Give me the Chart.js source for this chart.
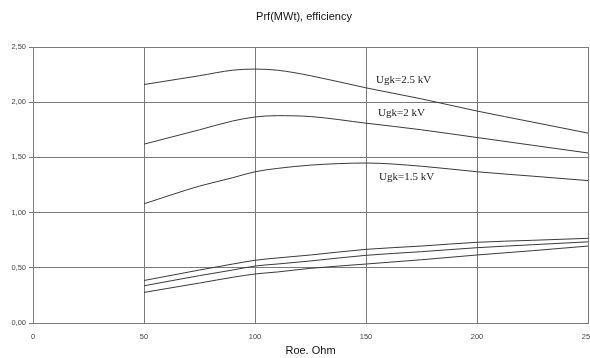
<!DOCTYPE html>
<html>
<head>
<meta charset="utf-8">
<script src="https://cdn.jsdelivr.net/npm/chart.js@4/dist/chart.umd.min.js"></script>
<style>
  html, body { margin: 0; padding: 0; background: #fff; overflow: hidden; width: 590px; height: 358px; }
  #wrap { width: 600px; height: 358px; }
</style>
</head>
<body>
<div id="wrap"><canvas id="c" width="600" height="358"></canvas></div>
<script>
// Roe, Ohm
const roe = [50, 75, 90, 100, 110, 125, 150, 175, 200, 225, 250];
// Prf (MWt) curves
const prf25 = [2.16, 2.24, 2.29, 2.30, 2.29, 2.24, 2.13, 2.03, 1.92, 1.82, 1.72];
const prf20 = [1.62, 1.75, 1.83, 1.866, 1.878, 1.87, 1.81, 1.75, 1.68, 1.61, 1.54];
const prf15 = [1.08, 1.24, 1.316, 1.37, 1.40, 1.43, 1.449, 1.42, 1.37, 1.33, 1.29];
// efficiency curves
const eff1 = [0.385, 0.48, 0.534, 0.568, 0.589, 0.616, 0.667, 0.697, 0.731, 0.749, 0.767];
const eff2 = [0.337, 0.429, 0.48, 0.516, 0.534, 0.562, 0.613, 0.646, 0.682, 0.709, 0.735];
const eff3 = [0.277, 0.362, 0.414, 0.444, 0.462, 0.495, 0.534, 0.573, 0.616, 0.655, 0.697];
const yTicks = [0, 0.5, 1.0, 1.5, 2.0, 2.5];
const xTicks = [0, 50, 100, 150, 200, 250];
const curveLabels = ['Ugk=2.5 kV', 'Ugk=2 kV', 'Ugk=1.5 kV'];
const labelAnchorX = [154.5, 155.4, 155.9];
const labelAnchorY = [2.20, 1.90, 1.32];
const chartTitle = 'Prf(MWt), efficiency';
const xTitle = 'Roe. Ohm';

const series = [prf25, prf20, prf15, eff1, eff2, eff3];
const datasets = series.map(vals => ({
  data: roe.map((x, i) => ({ x: x, y: vals[i] })),
  borderColor: '#3a3a3a',
  borderWidth: 1,
  pointRadius: 0,
  fill: false,
  cubicInterpolationMode: 'monotone'
}));

const gridColor = '#7a7a7a';

const overlay = {
  id: 'overlay',
  afterDraw(chart) {
    const ctx = chart.ctx;
    const xs = chart.scales.x, ys = chart.scales.y;
    ctx.save();
    ctx.fillStyle = '#111';
    ctx.font = '11px "Liberation Sans", Arial, sans-serif';
    ctx.textAlign = 'center';
    ctx.textBaseline = 'middle';
    ctx.fillText(chartTitle, 304, 17);
    ctx.font = '11px "Liberation Serif", "Times New Roman", serif';
    ctx.textAlign = 'left';
    ctx.fillStyle = '#222';
    curveLabels.forEach((t, i) => {
      ctx.fillText(t, xs.getPixelForValue(labelAnchorX[i]), ys.getPixelForValue(labelAnchorY[i]));
    });
    ctx.restore();
  }
};

new Chart(document.getElementById('c'), {
  type: 'line',
  data: { datasets },
  options: {
    responsive: false,
    animation: false,
    devicePixelRatio: 1,
    layout: { padding: { top: 47, right: 12, left: 0, bottom: 0 } },
    plugins: { legend: { display: false }, title: { display: false }, tooltip: { enabled: false } },
    scales: {
      x: {
        type: 'linear', min: 0, max: 250,
        afterFit(s) { s.height = 35; s.paddingRight = 0; },
        afterBuildTicks(s) { s.ticks = xTicks.map(v => ({ value: v })); },
        grid: { color: gridColor, drawTicks: false, lineWidth: 1 },
        border: { color: gridColor },
        ticks: { color: '#444', font: { family: '"Liberation Sans", Arial', size: 7.5 }, padding: 9, maxRotation: 0 },
        title: { display: true, text: xTitle, color: '#111', font: { family: '"Liberation Sans", Arial', size: 11 }, padding: 0 }
      },
      y: {
        type: 'linear', min: 0, max: 2.5,
        afterFit(s) { s.width = 33; },
        afterBuildTicks(s) { s.ticks = yTicks.map(v => ({ value: v })); },
        grid: { color: gridColor, drawTicks: true, tickLength: 4, lineWidth: 1 },
        border: { color: gridColor },
        ticks: { color: '#444', font: { family: '"Liberation Sans", Arial', size: 7.5 }, padding: 3,
          callback: v => v.toFixed(2).replace('.', ',') }
      }
    }
  },
  plugins: [overlay]
});
</script>
</body>
</html>
